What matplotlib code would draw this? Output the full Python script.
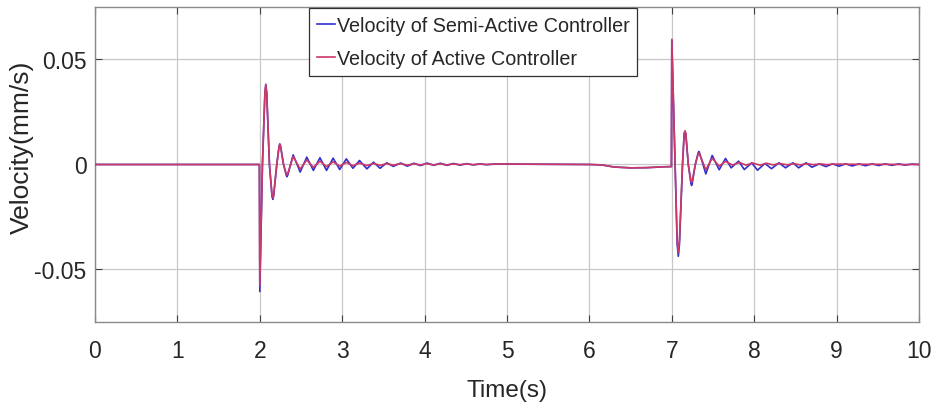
import matplotlib
matplotlib.use("Agg")
import matplotlib.pyplot as plt
from matplotlib.ticker import FixedLocator, FixedFormatter

# ---------------- data ----------------
semi_t = [0, 1.995, 2.0, 2.032, 2.062, 2.073, 2.084, 2.117, 2.148, 2.158, 2.168, 2.206,
          2.234, 2.243, 2.252, 2.288, 2.322, 2.33, 2.338, 2.405, 2.49, 2.57, 2.65, 2.73,
          2.81, 2.89, 2.97, 3.05, 3.13, 3.21,
          3.30, 3.38, 3.46, 3.54, 3.62, 3.71, 3.79, 3.87, 3.95, 4.03, 4.11, 4.19, 4.27,
          4.35, 4.43, 4.51, 4.59, 4.67, 4.75, 4.85, 5.0, 5.5, 6.0, 6.15, 6.3, 6.5, 6.7,
          6.9, 6.995, 7.0, 7.04, 7.065, 7.079, 7.093, 7.13, 7.15, 7.16, 7.17, 7.20,
          7.232, 7.24, 7.248, 7.285, 7.32, 7.328, 7.336,
          7.413, 7.49, 7.575, 7.652, 7.72, 7.81, 7.88, 7.97, 8.04, 8.13, 8.21, 8.30, 8.38,
          8.47, 8.54, 8.63, 8.70, 8.79, 8.87, 8.95, 9.03, 9.11, 9.19, 9.27, 9.35, 9.43,
          9.51, 9.59, 9.67, 9.75, 9.83, 9.91, 10.0]
semi_v = [0, 0, -0.0605, 0, 0.034, 0.0382, 0.034, 0, -0.015, -0.0166, -0.015, 0,
          0.0088, 0.0098, 0.0088, 0, -0.0052, -0.0058, -0.0052, 0.0046, -0.0036, 0.0035,
          -0.0028, 0.0032, -0.0028, 0.0030,
          -0.0024, 0.0027, -0.0018, 0.0019, -0.0021, 0.0011, -0.0018, 0.0008, -0.0009,
          0.0007, -0.0008, 0.0006, -0.0005, 0.0007, -0.0004, 0.0006, -0.0004, 0.0005,
          -0.0003, 0.0004, -0.0002, 0.0003, -0.0001, 0.0002, 0.0002, 0.0001, 0.0, -0.0002,
          -0.0012, -0.0016, -0.0015, -0.0011, -0.0010, 0.0592, 0, -0.038, -0.0437, -0.038,
          0, 0.0145, 0.0158, 0.0145, 0, -0.0090, -0.0100, -0.0090, 0, 0.0056, 0.0062,
          0.0056, -0.0045, 0.0043, -0.0025, 0.0029,
          -0.0016, 0.0016, -0.0024, 0.0008, -0.0027, 0.0005, -0.0020, 0.0008, -0.0016,
          0.0008, -0.0016, 0.0008, -0.0013, 0.0003, -0.0010, 0.0003, -0.0008, 0.0003,
          -0.0007, 0.0003, -0.0006, 0.0003, -0.0005, 0.0003, -0.0004, 0.0003, -0.0003,
          0.0002, 0.0]

active_t = [0, 1.995, 2.0, 2.032, 2.062, 2.073, 2.084, 2.117, 2.148, 2.158, 2.168, 2.206,
            2.234, 2.243, 2.252, 2.288, 2.322, 2.33, 2.338, 2.405, 2.49, 2.57, 2.65, 2.73,
            2.81, 2.89, 2.97, 3.05, 3.13, 3.21,
            3.30, 3.38, 3.46, 3.54, 3.62, 3.71, 3.79, 3.87, 3.95, 4.03, 4.11, 4.19, 4.27,
            4.35, 4.43, 4.51, 4.59, 4.67, 4.75, 4.85, 5.0, 5.5, 6.0, 6.15, 6.3, 6.5, 6.7,
            6.9, 6.995, 7.0, 7.04, 7.065, 7.079, 7.093, 7.13, 7.15, 7.16, 7.17, 7.20,
            7.232, 7.24, 7.248, 7.285, 7.32, 7.328, 7.336,
            7.413, 7.49, 7.575, 7.652, 7.737, 7.82, 7.90, 7.98, 8.07, 8.15, 8.23, 8.31,
            8.40, 8.48, 8.56, 8.64, 8.72, 8.80, 8.88, 8.96, 9.2, 9.5, 9.8, 10.0]
active_v = [0, 0, -0.0577, 0, 0.034, 0.0380, 0.034, 0, -0.0145, -0.0160, -0.0145, 0,
            0.0085, 0.0095, 0.0085, 0, -0.0045, -0.0050, -0.0045, 0.0038, -0.0022, 0.0022,
            -0.0014, 0.0016, -0.0010, 0.0013,
            -0.0008, 0.0010, -0.0006, 0.0007, -0.0005, 0.0005, -0.0004, 0.0004, -0.0003,
            0.0004, -0.0003, 0.0003, -0.0002, 0.0004, -0.0002, 0.0003, -0.0002, 0.0003,
            -0.0001, 0.0003, -0.0001, 0.0002, 0.0, 0.0002, 0.0002, 0.0001, 0.0, -0.0002,
            -0.0012, -0.0016, -0.0015, -0.0011, -0.0010, 0.0596, 0, -0.036, -0.0420,
            -0.036, 0, 0.0148, 0.0160, 0.0148, 0, -0.0077, -0.0085, -0.0077, 0, 0.0050,
            0.0055, 0.0050, -0.0025, 0.0030, -0.0008,
            0.0015, -0.0003, 0.0010, -0.0003, 0.0007, -0.0003, 0.0006, -0.0002, 0.0005,
            -0.0002, 0.0004, -0.0002, 0.0004, -0.0001, 0.0003, -0.0001, 0.0002, 0.0001,
            0.0001, 0.0, 0.0]

labels = ["Velocity of Semi-Active Controller", "Velocity of Active Controller"]
xticks = [0, 1, 2, 3, 4, 5, 6, 7, 8, 9, 10]
yticks = [-0.05, 0, 0.05]
ytick_labels = ["-0.05", "0", "0.05"]

# ---------------- plotting ----------------
plt.rcParams["font.family"] = ["Liberation Sans", "DejaVu Sans"]

fig = plt.figure(figsize=(9.35, 4.10), dpi=100)
ax = fig.add_axes([0.1016, 0.2122, 0.8813, 0.7683])

ax.plot(semi_t, semi_v, color="#3030cc", lw=1.2, label=labels[0], zorder=3,
        solid_joinstyle="round")
ax.plot(active_t, active_v, color="#cc3868", lw=1.2, label=labels[1], zorder=4,
        solid_joinstyle="round")

ax.set_xlim(0, 10)
ax.set_ylim(-0.075, 0.075)
ax.xaxis.set_major_locator(FixedLocator(xticks))
ax.yaxis.set_major_locator(FixedLocator(yticks))
ax.yaxis.set_major_formatter(FixedFormatter(ytick_labels))

ax.grid(True, color="#c8c8c8", lw=0.9)
ax.set_axisbelow(True)
for s in ax.spines.values():
    s.set_color("#8a8a8a")
    s.set_linewidth(1.0)

ax.tick_params(axis="both", direction="in", length=5, width=0.8, color="#404040",
               labelsize=16.5, labelcolor="#262626", top=True, right=True)
ax.tick_params(axis="x", pad=12.5)
ax.tick_params(axis="y", pad=6)

ax.set_xlabel("Time(s)", fontsize=17.5, color="#262626")
ax.xaxis.set_label_coords(0.5, -0.18)
ax.set_ylabel("Velocity(mm/s)", fontsize=19, color="#262626")
ax.yaxis.set_label_coords(-0.074, 0.559)

leg = ax.legend(loc="upper left", bbox_to_anchor=(0.2597, 0.9968), fontsize=14.2,
                frameon=True, fancybox=False, framealpha=1, edgecolor="#303030",
                handlelength=0.9, handletextpad=0.1, borderpad=0.4,
                labelspacing=0.7, borderaxespad=0)
leg.get_frame().set_linewidth(0.9)
for t in leg.get_texts():
    t.set_color("#262626")

fig.savefig("out.png", dpi=100)
